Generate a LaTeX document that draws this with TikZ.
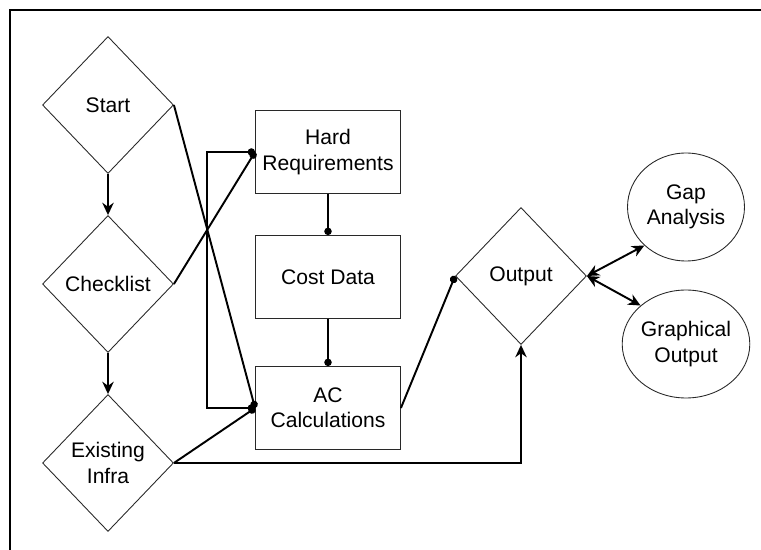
\documentclass[tikz,border=0pt]{standalone}
\usepackage{fontspec}
\setmainfont{Liberation Sans}
\usepackage{tikz}
\usetikzlibrary{arrows.meta,positioning,shapes.geometric}
\usepackage{xcolor}
\definecolor{shapeline}{RGB}{40,40,40}
\definecolor{linkline}{RGB}{0,0,0}
\tikzset{
  dnode/.style={diamond,draw=shapeline,line width=0.5pt,inner sep=0pt,align=center,
    minimum width=2.62cm,minimum height=2.74cm,font=\fontsize{12}{14.5}\selectfont},
  bnode/.style={rectangle,draw=shapeline,line width=0.5pt,inner sep=2pt,align=center,
    minimum width=2.9cm,minimum height=1.66cm,font=\fontsize{12}{14.5}\selectfont},
  enode/.style={ellipse,draw=shapeline,line width=0.5pt,inner sep=0pt,align=center,
    minimum width=2.34cm,minimum height=2.16cm,font=\fontsize{12}{14.5}\selectfont},
  link/.style={line width=1.1pt,draw=linkline},
  linkdot/.style={link,-{Circle[length=4.2pt]}},
  linkdots/.style={link,{Circle[length=4.2pt]}-{Circle[length=4.2pt]}},
  flow/.style={link,-{Stealth[length=7pt,width=6.5pt]}},
  twoway/.style={link,{Stealth[length=7pt,width=6.5pt]}-{Stealth[length=7pt,width=6.5pt]}},
  frame/.style={line width=1.4pt,draw=black}
}

\begin{document}
\begin{tikzpicture}[x=0.02cm,y=-0.02cm]
  \useasboundingbox (0,0) rectangle (761,550);
  \draw[frame] (10,550) -- (10,10) -- (761,10);

  \node[dnode] (start) at (108,105) {Start};
  \node[dnode] (check) at (108,284) {Checklist};
  \node[dnode] (infra) at (108,463) {Existing\\Infra};
  \node[bnode] (hard) at (328,152) {Hard\\Requirements};
  \node[bnode] (cost) at (328,277) {Cost Data};
  \node[bnode] (calc) at (328,408) {AC\\Calculations};
  \node[dnode] (out) at (521,276) {Output};
  \node[enode] (gap) at (686,207) {Gap\\Analysis};
  \node[enode] (graph) at (686,344) {Graphical\\Output};

  \draw[flow] (start) -- (check);
  \draw[flow] (check) -- (infra);
  \draw[linkdot] (start.east) -- (calc.west);
  \draw[linkdot] (check.east) -- (hard.west);
  \draw[linkdots] (hard.west) -- ++(-48,0) |- (calc.west);
  \draw[linkdot] (hard) -- (cost);
  \draw[linkdot] (cost) -- (calc);
  \draw[linkdot] (infra.east) -- (calc.west);
  \draw[linkdot] (calc.east) -- (out.west);
  \draw[flow] (infra.east) -| (out.south);
  \draw[twoway] (out.east) -- (gap.south west);
  \draw[twoway] (out.east) -- (graph.north west);
\end{tikzpicture}
\end{document}
